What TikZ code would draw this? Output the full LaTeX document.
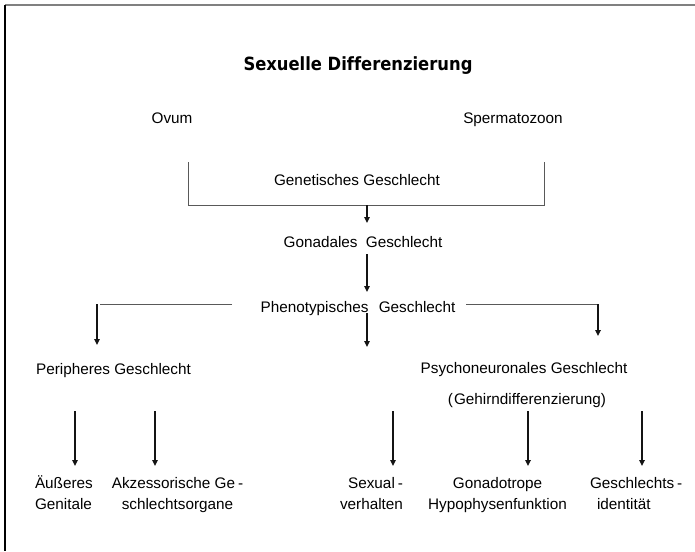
\documentclass[tikz,border=0pt]{standalone}
\usepackage{fontspec}
\setmainfont{Liberation Sans}[Ligatures=NoCommon]
\newfontfamily\titlefont{DejaVu Sans Condensed}[Ligatures=NoCommon]
\usetikzlibrary{arrows.meta}
\newcommand\tlc[2]{\vtop{\baselineskip=21pt\lineskiplimit=-20pt\halign{\hfil##\hfil\cr#1\cr#2\cr}}}
\newcommand\tll[2]{\vtop{\baselineskip=21pt\lineskiplimit=-20pt\halign{##\hfil\cr#1\cr#2\cr}}}
\newcommand\tlr[2]{\vtop{\baselineskip=21pt\lineskiplimit=-20pt\halign{\hfil##\cr#1\cr#2\cr}}}
\tikzset{
  lbl/.style={inner sep=0pt, outer sep=0pt, anchor=base, font=\fontsize{15.3}{18}\selectfont, text=black},
  ttl/.style={inner sep=0pt, anchor=base, font=\titlefont\bfseries\fontsize{18.2}{22}\selectfont},
  arr/.style={line width=1.5pt, draw=black!92, -{Triangle[length=6pt,width=5.5pt]}},
  thin/.style={line width=1pt, draw=black!65},
}
\begin{document}
\begin{tikzpicture}[x=1pt,y=-1pt]
\useasboundingbox (0,0) rectangle (695,551);
% frame
\coordinate (f0) at (5,5);
\coordinate (f1) at (695,5);
\coordinate (f2) at (5,551);
\draw[line width=1.5pt, draw=black!50] (f0) -- (f1);
\draw[line width=1.5pt, draw=black] (f0) -- (f2);
% texts
\node[ttl] (title) at (358,70.5) {Sexuelle Differenzierung};
\node[lbl] (ovum) at (172,123.5) {Ovum};
\node[lbl] (sperm) at (513,123.5) {Spermatozoon};
\node[lbl] (gen) at (357,185.5) {Genetisches Geschlecht};
\node[lbl] (gon) at (363,247.5) {Gonadales\hspace{4pt} Geschlecht};
\node[lbl] (phen) at (358,312.5) {Phenotypisches\hspace{6pt} Geschlecht};
\node[lbl] (peri) at (113.5,374) {Peripheres Geschlecht};
\node[lbl] (psy) at (524,373.5) {Psychoneuronales Geschlecht};
\node[lbl] (gehirn) at (527,404) {(\kern1pt Gehirndifferenzierung)};
\node[lbl, anchor=base west] (aeuss) at (35,488.5) {\tll{Äußeres}{Genitale}};
\node[lbl] (akz) at (177.5,488.5) {\tlc{Akzessorische Ge\kern3pt-}{schlechtsorgane}};
\node[lbl, anchor=base east] (sexv) at (403,488.5) {\tlr{Sexual\kern3pt-}{verhalten}};
\node[lbl] (gonad) at (497.5,488.5) {\tlc{Gonadotrope}{Hypophysenfunktion}};
\node[lbl, anchor=base west] (gid) at (590,488.5) {\tll{Geschlechts\kern3pt-}{\hspace{7pt}identität}};
% bracket
\coordinate (b1) at (188,162);
\coordinate (b2) at (188,205);
\coordinate (b3) at (544,205);
\coordinate (b4) at (544,162);
\draw[thin] (b1) -- (b2) -- (b3) -- (b4);
% main chain
\coordinate (a1s) at (367,205);
\coordinate (a1e) at (367,223);
\coordinate (a2s) at (367,254);
\coordinate (a2e) at (367,292);
\coordinate (a3s) at (367,313);
\coordinate (a3e) at (367,347);
\draw[arr] (a1s) -- (a1e);
\draw[arr] (a2s) -- (a2e);
\draw[arr] (a3s) -- (a3e);
% branches
\coordinate (l0) at (232,304);
\coordinate (l1) at (100,304);
\coordinate (l2) at (97,304);
\coordinate (l3) at (97,345);
\draw[thin] (l0) -- (l1);
\draw[arr] (l2) -- (l3);
\coordinate (r0) at (466,304);
\coordinate (r1) at (598,304);
\coordinate (r2) at (598,336);
\draw[thin] (r0) -- (r1);
\draw[arr] (r1) -- (r2);
% leaf arrows
\foreach \x/\n in {75/p1,155/p2,393/p3,528/p4,642/p5}{
  \coordinate (\n s) at (\x,411);
  \coordinate (\n e) at (\x,466);
  \draw[arr] (\n s) -- (\n e);
}
\end{tikzpicture}
\end{document}
